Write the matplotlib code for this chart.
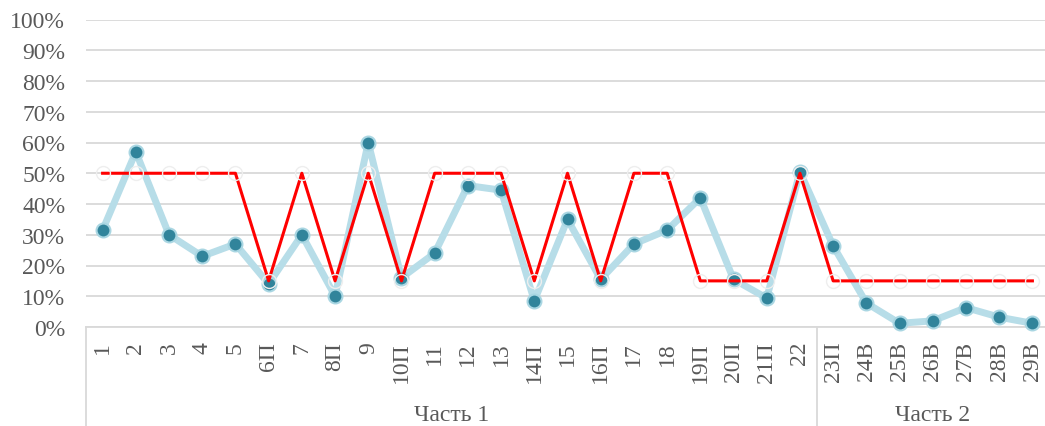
import matplotlib
matplotlib.use("Agg")
import matplotlib.pyplot as plt
import matplotlib.transforms as mtransforms

plt.rcParams['font.family'] = ['Liberation Serif', 'DejaVu Serif']

labels = ['1', '2', '3', '4', '5', '6П', '7', '8П', '9', '10П', '11', '12', '13',
          '14П', '15', '16П', '17', '18', '19П', '20П', '21П', '22',
          '23П', '24В', '25В', '26В', '27В', '28В', '29В']
result = [31.5, 57, 30, 23, 27, 14, 30, 10, 60, 16, 24, 46, 44.5,
          8.5, 35, 15.5, 27, 31.5, 42, 15.5, 9.4, 50.5,
          26.4, 7.8, 1.2, 2, 6.3, 3.2, 1.2]
threshold = [50, 50, 50, 50, 50, 15, 50, 15, 50, 15, 50, 50, 50,
             15, 50, 15, 50, 50, 15, 15, 15, 50,
             15, 15, 15, 15, 15, 15, 15]
groups = ['Часть 1', 'Часть 2']
group_sizes = [22, 7]

grey = '#595959'
gridc = '#d9d9d9'
fs = 17

fig = plt.figure(figsize=(10.45, 4.27), dpi=100)
ax = fig.add_axes([86 / 1045, 1 - 328 / 427, 963 / 1045, 307.5 / 427])

x = list(range(len(labels)))
yres = [v / 100 for v in result]
ythr = [v / 100 for v in threshold]

ax.plot(x, yres, color='#b7dde8', lw=5, marker='o', markersize=10,
        markerfacecolor='#31849b', markeredgecolor='#a9d6e2', markeredgewidth=1.5,
        zorder=3, clip_on=False)
ax.plot(x, ythr, color='#ff0000', lw=2.2, marker='o', markersize=10,
        markerfacecolor='none', markeredgecolor='#eeeeee', markeredgewidth=1,
        zorder=4, clip_on=False)

ax.set_xlim(-0.5, len(labels) - 0.5)
ax.set_ylim(0, 1)
ax.set_yticks([i / 10 for i in range(11)])
ax.set_yticklabels([f'{i * 10}%' for i in range(11)])
ax.yaxis.grid(True, color=gridc, lw=1.3)
ax.set_axisbelow(True)
ax.tick_params(axis='y', length=0, pad=15, labelsize=fs, labelcolor=grey)

ax.set_xticks(x)
ax.set_xticklabels(labels, rotation=90)
ax.tick_params(axis='x', length=0, pad=10, labelsize=fs, labelcolor=grey)

for s in ['top', 'right', 'left']:
    ax.spines[s].set_visible(False)
ax.spines['bottom'].set_color(gridc)
ax.spines['bottom'].set_linewidth(1.3)

# group boxes under the category labels
trans = mtransforms.blended_transform_factory(ax.transData, ax.transAxes)
start = -0.5
for name, n in zip(groups, group_sizes):
    ax.plot([start, start], [0, -0.33], color=gridc, lw=1.3, transform=trans, clip_on=False)
    ax.text(start + n / 2, -0.283, name, transform=trans, ha='center', va='center',
            fontsize=fs, color=grey)
    start += n

fig.savefig('out.png', dpi=100)
